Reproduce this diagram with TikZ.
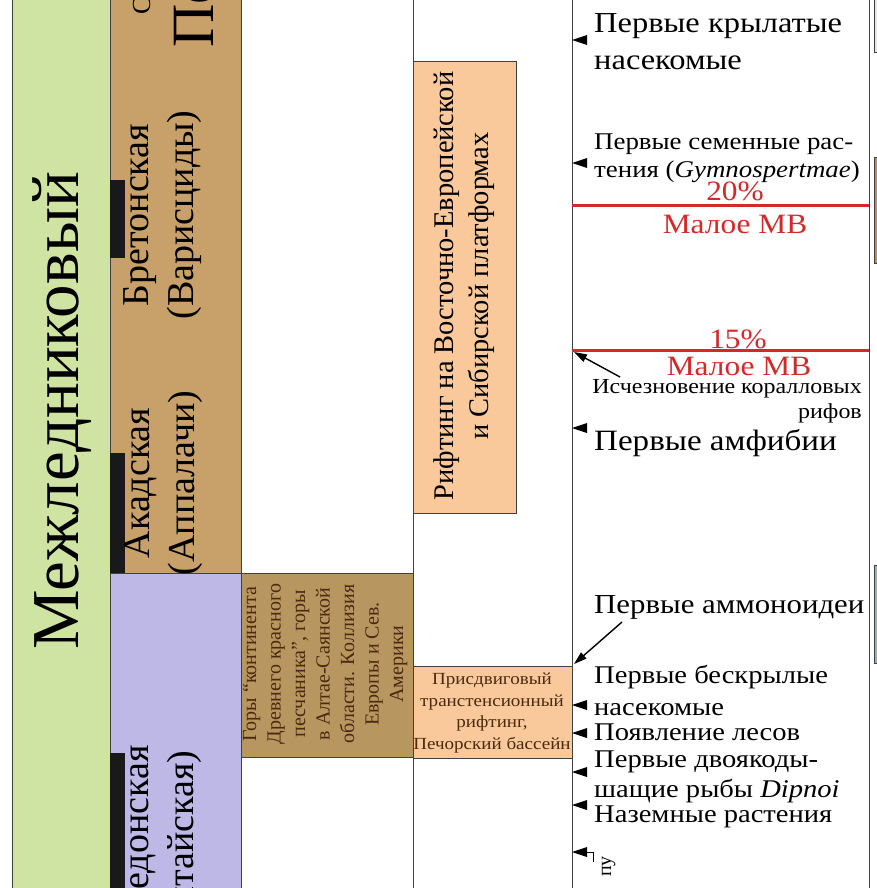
\documentclass[tikz,border=0pt]{standalone}
\usepackage{fontspec}
\setmainfont{Liberation Serif}
\newfontfamily\quer{Liberation Serif}[FakeStretch=1.12]
\usetikzlibrary{arrows.meta}
\definecolor{gruen}{HTML}{CFE3A2}
\definecolor{braun}{HTML}{C8A06A}
\definecolor{lila}{HTML}{BEB8E6}
\definecolor{ocker}{HTML}{B8965F}
\definecolor{pfirsich}{HTML}{F9C99B}
\definecolor{rotlinie}{HTML}{D22A2A}
\definecolor{dunkel}{HTML}{4A2A10}
\begin{document}
\begin{tikzpicture}[x=1pt,y=-1pt,
kasten/.style={draw=black!75, line width=0.6pt},
senk/.style={rotate=90, align=center, inner sep=0pt},
gross/.style={anchor=base west, inner sep=0pt, align=left, font=\quer\fontsize{25.5}{32}\selectfont},
rotschrift/.style={anchor=base, inner sep=0pt, rotlinie, font=\quer\fontsize{28}{30}\selectfont},
pfeil/.style={-{Triangle[length=13pt,width=8pt]}, line width=1.4pt}]
\useasboundingbox (0,0) rectangle (877,888);
\clip (0,0) rectangle (877,888);
\fill[white] (0,0) rectangle (877,888);
\draw[kasten, fill=gruen] (12,-2) rectangle (110,890);
\draw[kasten, fill=braun] (110,-2) rectangle (241,573);
\draw[kasten, fill=lila] (110,573) rectangle (241,890);
\draw[kasten, fill=ocker] (241,573) rectangle (413,757);
\draw[kasten, fill=pfirsich] (413,61) rectangle (516,513);
\draw[kasten, fill=pfirsich] (413,666) rectangle (572,758);
\fill[black!90] (110,180) rectangle (125,258);
\fill[black!90] (110,453) rectangle (125,573);
\fill[black!90] (110,753) rectangle (125,890);
\draw[kasten] (413,-2) -- (413,890);
\draw[kasten] (572,-2) -- (572,890);
\draw[kasten] (869,-2) -- (869,890);
\draw[kasten, fill=black!10] (874,-2) rectangle (890,52);
\draw[kasten, fill=braun!90!black] (874,157) rectangle (890,263);
\draw[kasten, fill=teal!35!gray!60] (874,565) rectangle (890,663);
\node[senk, anchor=base, font=\fontsize{67}{70}\selectfont] (mezh) at (78,411) {Межледниковый};
\node[senk, anchor=base west, font=\fontsize{26}{30}\selectfont] (s) at (150,15) {С};
\node[senk, anchor=base west, font=\fontsize{60}{64}\selectfont] (pe) at (213,48) {Пе};
\node[senk, font=\fontsize{38}{45}\selectfont] (bret) at (163,215) {Бретонская\\(Варисциды)};
\node[senk, font=\fontsize{38}{45}\selectfont] (akad) at (163,483) {Акадская\\(Аппалачи)};
\node[senk, font=\fontsize{38}{45}\selectfont] (kal) at (163,848) {Каледонская\\(Алтайская)};
\node[senk, dunkel, font=\fontsize{20}{24.5}\selectfont] (gory) at (325,664) {Горы “континента\\Древнего красного\\песчаника”, горы\\в Алтае-Саянской\\области. Коллизия\\Европы и Сев.\\Америки};
\node[senk, font=\fontsize{28.5}{35}\selectfont] (rift) at (464,286) {Рифтинг на Восточно-Европейской\\и Сибирской платформах};
\node[align=center, inner sep=0pt, dunkel, font=\quer\fontsize{17}{21.7}\selectfont] (prisd) at (492,713) {Присдвиговый\\транстенсионный\\рифтинг,\\Печорский бассейн};
\node[gross, font=\quer\fontsize{29}{37}\selectfont] (kryl) at (594,70) {Первые крылатые\\насекомые};
\node[gross, font=\quer\fontsize{24}{28}\selectfont] (semen) at (594,177) {Первые семенные рас-\\тения (\textit{Gymnospertmae})};
\node[rotschrift] (p20) at (735,200) {20\%};
\node[rotschrift] (mv20) at (735,233) {Малое МВ};
\draw[rotlinie, line width=3pt] (572,205) -- (869,205);
\node[rotschrift] (p15) at (738,348) {15\%};
\node[rotschrift] (mv15) at (739,375) {Малое МВ};
\draw[rotlinie, line width=3pt] (572,350) -- (869,350);
\node[anchor=base east, inner sep=0pt, align=right, font=\quer\fontsize{21.4}{25}\selectfont] (koral) at (862,418) {Исчезновение коралловых\\рифов};
\node[gross, font=\quer\fontsize{29.5}{32}\selectfont] (amf) at (594,450) {Первые амфибии};
\node[gross, font=\quer\fontsize{27.5}{32}\selectfont] (ammo) at (594,613) {Первые аммоноидеи};
\node[gross] (beskr) at (594,715) {Первые бескрылые\\насекомые};
\node[gross] (les) at (594,740) {Появление лесов};
\node[gross, font=\quer\fontsize{25.5}{30}\selectfont] (dvoy) at (594,797) {Первые двоякоды-\\шащие рыбы \textit{Dipnoi}};
\node[gross] (nazem) at (594,822) {Наземные растения};
\node[senk, anchor=base east, font=\fontsize{20}{24}\selectfont] (pu) at (611,856) {пу};
\coordinate (korS) at (620,377);
\coordinate (korT) at (574,352);
\draw[pfeil] (korS) -- (korT);
\coordinate (ammS) at (622,622);
\coordinate (ammT) at (574,664);
\draw[pfeil] (ammS) -- (ammT);
\draw[line width=1pt] (586,852) -- (593,852) -- (593,862);
\fill (572,40) -- (587,35) -- (587,45) -- cycle;
\fill (572,163) -- (587,158) -- (587,168) -- cycle;
\fill (572,428) -- (587,423) -- (587,433) -- cycle;
\fill (572,705) -- (587,700) -- (587,710) -- cycle;
\fill (572,733) -- (587,728) -- (587,738) -- cycle;
\fill (572,772) -- (587,767) -- (587,777) -- cycle;
\fill (572,805) -- (587,800) -- (587,810) -- cycle;
\fill (572,852) -- (587,847) -- (587,857) -- cycle;
\end{tikzpicture}
\end{document}
